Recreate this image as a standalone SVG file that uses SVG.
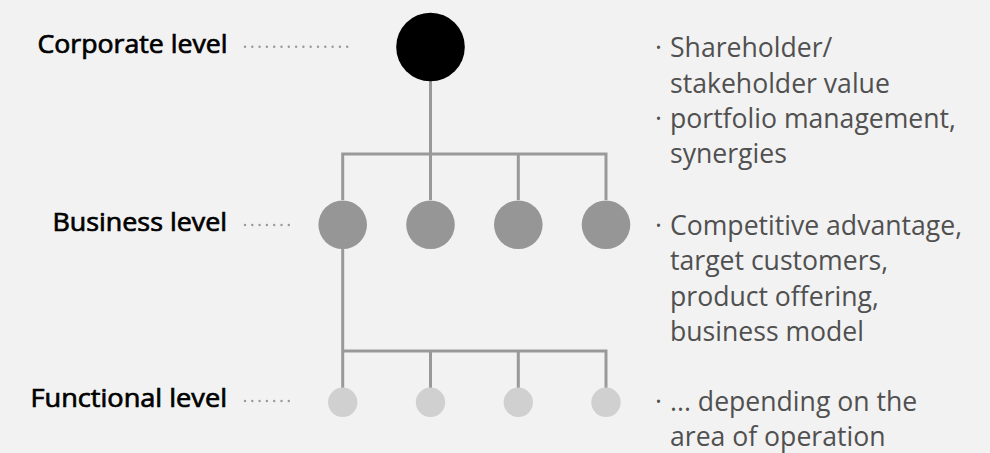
<svg xmlns="http://www.w3.org/2000/svg" width="990" height="453" viewBox="0 0 990 453">
  <style>
    .label { font-family: "Open Sans", "Liberation Sans", sans-serif; font-size: 25.5px; font-weight: 400; fill: #000; stroke: #000; stroke-width: 0.7; text-anchor: end; }
    .note { font-family: "Open Sans", "Liberation Sans", sans-serif; font-size: 26.6px; fill: #505050; }
    .dots { stroke: #999; stroke-width: 2.4; stroke-linecap: round; stroke-dasharray: 0 7.3; fill: none; }
    .link { stroke: #999; stroke-width: 3; fill: none; }
    .corp { fill: #000; }
    .biz { fill: #969696; }
    .func { fill: #d0d0d0; }
  </style>
  <rect width="990" height="453" fill="#f2f2f2"/>

  <!-- tree connectors -->
  <g id="connectors">
    <path class="link" d="M430.5 81 V200 M342.7 154 H606 M342.7 152.5 V200 M518.3 154 V200 M606 152.5 V200"/>
    <path class="link" d="M342.7 249 V388 M342.7 351 H606 M430.5 351 V388 M518.3 351 V388 M606 349.5 V388"/>
  </g>

  <!-- level captions with dotted leaders -->
  <g id="level-corporate">
    <text class="label" x="227.5" y="53.3" textLength="190" lengthAdjust="spacingAndGlyphs">Corporate level</text>
    <path class="dots" d="M245 46.7 H348"/>
  </g>
  <g id="level-business">
    <text class="label" x="227" y="231" textLength="174.5" lengthAdjust="spacingAndGlyphs">Business level</text>
    <path class="dots" d="M245 225 H296"/>
  </g>
  <g id="level-functional">
    <text class="label" x="227" y="407.3" textLength="196.5" lengthAdjust="spacingAndGlyphs">Functional level</text>
    <path class="dots" d="M245 401 H296"/>
  </g>

  <!-- nodes -->
  <g id="node-corporate"><circle class="corp" cx="430.5" cy="47" r="34.3"/></g>
  <g id="node-business-1"><circle class="biz" cx="342.7" cy="224.8" r="24.3"/></g>
  <g id="node-business-2"><circle class="biz" cx="430.5" cy="224.8" r="24.3"/></g>
  <g id="node-business-3"><circle class="biz" cx="518.3" cy="224.8" r="24.3"/></g>
  <g id="node-business-4"><circle class="biz" cx="606" cy="224.8" r="24.3"/></g>
  <g id="node-functional-1"><circle class="func" cx="342.7" cy="402.3" r="14.7"/></g>
  <g id="node-functional-2"><circle class="func" cx="430.5" cy="402.3" r="14.7"/></g>
  <g id="node-functional-3"><circle class="func" cx="518.3" cy="402.3" r="14.7"/></g>
  <g id="node-functional-4"><circle class="func" cx="606" cy="402.3" r="14.7"/></g>

  <!-- descriptions per level -->
  <g id="notes-corporate">
    <text class="note" x="655" y="57.3">·</text>
    <text class="note" x="670" y="57.3">Shareholder/</text>
    <text class="note" x="670" y="92.6">stakeholder value</text>
    <text class="note" x="655" y="128">·</text>
    <text class="note" x="670" y="128">portfolio management,</text>
    <text class="note" x="670" y="163.3">synergies</text>
  </g>
  <g id="notes-business">
    <text class="note" x="655" y="235">·</text>
    <text class="note" x="670" y="235">Competitive advantage,</text>
    <text class="note" x="670" y="270.3">target customers,</text>
    <text class="note" x="670" y="305.6">product offering,</text>
    <text class="note" x="670" y="340.9">business model</text>
  </g>
  <g id="notes-functional">
    <text class="note" x="655" y="411">·</text>
    <text class="note" x="670" y="411">... depending on the</text>
    <text class="note" x="670" y="446.3">area of operation</text>
  </g>
</svg>
